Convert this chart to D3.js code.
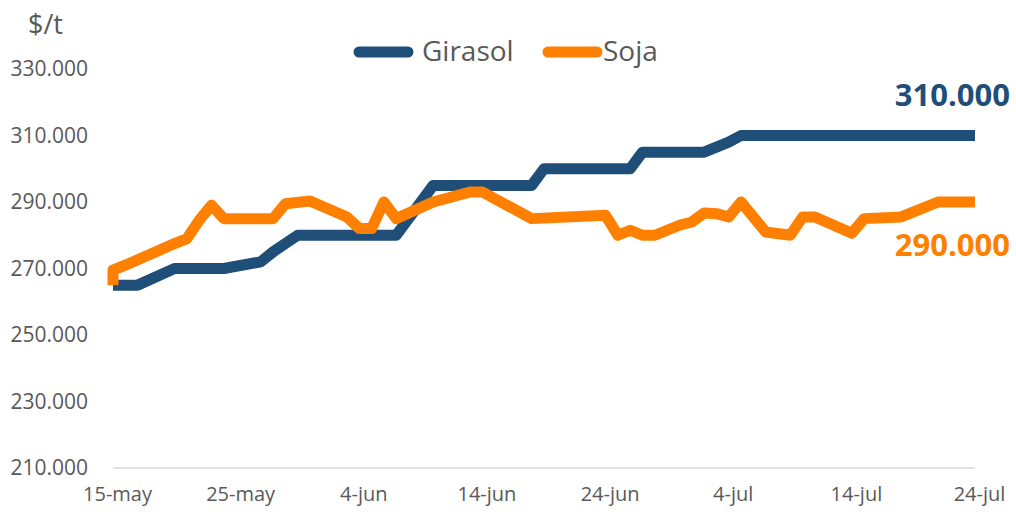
<!DOCTYPE html>
<html>
<head>
<meta charset="utf-8">
<script src="https://cdn.jsdelivr.net/npm/d3@7"></script>
<style>
  body { margin: 0; background: #fff; }
  svg { display: block; font-family: 'Open Sans', sans-serif; }
</style>
</head>
<body>
<svg width="1016" height="512"></svg>
<script>
// data (dates of 2020, values in $/t)
var girasolDates = ['05-15','05-17','05-20','05-24','05-27','05-28','05-29','05-30','06-03','06-07',
                    '06-10','06-18','06-19','06-26','06-27','07-02','07-03','07-04','07-05','07-24'];
var girasolValues = [265,265,270,270,272,275,277.5,280,280,280,
                     295,295,300,300,305,305,306.5,308,310,310];

var sojaDates = ['05-15','05-15','05-16','05-20','05-21','05-22','05-23','05-24','05-28','05-29',
                 '05-31','06-03','06-04','06-05','06-06','06-07','06-10','06-13','06-14','06-18',
                 '06-24','06-25','06-26','06-27','06-28','06-30','07-01','07-02','07-03','07-04',
                 '07-05','07-07','07-09','07-10','07-11','07-14','07-15','07-18','07-21','07-24'];
var sojaValues = [265,269.5,271,277.5,279,284.5,289,285,285,289.5,
                  290.3,285.5,282,282,290,285,290,293,293,285,
                  286,280,281.5,280,280,283,284,286.7,286.5,285.5,
                  290,281,280,285.5,285.5,280.6,285,285.5,290,290];

var tickDates = ['05-15','05-25','06-04','06-14','06-24','07-04','07-14','07-24'];
var yTicks = [210,230,250,270,290,310,330];
var monthNames = ['ene','feb','mar','abr','may','jun','jul','ago','sep','oct','nov','dic'];

var parse = d3.timeParse('%Y-%m-%d');
var toDate = s => parse('2020-' + s);

var svg = d3.select('svg');

var x = d3.scaleTime()
    .domain([toDate('05-15'), toDate('07-24')])
    .range([113, 975]);
var y = d3.scaleLinear()
    .domain([210, 330])
    .range([468, 69]);

// y axis labels
var yAxis = svg.append('g')
    .attr('transform', 'translate(88,0)')
    .call(d3.axisLeft(y).tickValues(yTicks).tickSize(0).tickPadding(0)
        .tickFormat(v => v + '.000'));
yAxis.select('.domain').remove();
yAxis.selectAll('text')
    .attr('fill', '#595959')
    .style('font-size', '21px')
    .style('font-family', "'Open Sans', sans-serif");

// baseline
svg.append('line')
    .attr('x1', 113).attr('x2', 975)
    .attr('y1', y(210)).attr('y2', y(210))
    .attr('stroke', '#d9d9d9').attr('stroke-width', 1.5);

// x axis labels
var xAxis = svg.append('g')
    .attr('transform', 'translate(4,' + y(210) + ')')
    .call(d3.axisBottom(x).tickValues(tickDates.map(toDate)).tickSize(0).tickPadding(19)
        .tickFormat(d => d.getDate() + '-' + monthNames[d.getMonth()]));
xAxis.select('.domain').remove();
xAxis.selectAll('text')
    .attr('fill', '#595959')
    .style('font-size', '20px')
    .style('font-family', "'Open Sans', sans-serif");

// unit
svg.append('text')
    .attr('x', 28).attr('y', 34)
    .attr('fill', '#595959')
    .style('font-size', '27px')
    .text('$/t');

var line = d3.line()
    .x(d => x(d[0]))
    .y(d => y(d[1]));

var series = [
  {name: 'Girasol', color: '#1f4e79', data: d3.zip(girasolDates.map(toDate), girasolValues)},
  {name: 'Soja', color: '#ff8000', data: d3.zip(sojaDates.map(toDate), sojaValues)}
];

svg.selectAll('.serie')
    .data(series)
    .enter()
    .append('path')
    .attr('class', 'serie')
    .attr('d', d => line(d.data))
    .attr('fill', 'none')
    .attr('stroke', d => d.color)
    .attr('stroke-width', 11)
    .attr('stroke-linejoin', 'round');

// end labels
svg.append('text')
    .attr('x', 1010).attr('y', 106)
    .attr('text-anchor', 'end')
    .attr('fill', '#1f4e79')
    .style('font-size', '31px').style('font-weight', 'bold')
    .text(girasolValues[girasolValues.length - 1] + '.000');
svg.append('text')
    .attr('x', 1010).attr('y', 256)
    .attr('text-anchor', 'end')
    .attr('fill', '#ff8000')
    .style('font-size', '31px').style('font-weight', 'bold')
    .text(sojaValues[sojaValues.length - 1] + '.000');

// legend
var legendX = [359, 548];
var legend = svg.selectAll('.legend')
    .data(series)
    .enter()
    .append('g')
    .attr('class', 'legend')
    .attr('transform', (d, i) => 'translate(' + legendX[i] + ',52)');
legend.append('line')
    .attr('x1', 0).attr('x2', 49)
    .attr('stroke', d => d.color)
    .attr('stroke-width', 11)
    .attr('stroke-linecap', 'round');
legend.append('text')
    .attr('x', (d, i) => i == 0 ? 63 : 55)
    .attr('y', 9)
    .attr('fill', '#595959')
    .style('font-size', '28px')
    .text(d => d.name);
</script>
</body>
</html>
